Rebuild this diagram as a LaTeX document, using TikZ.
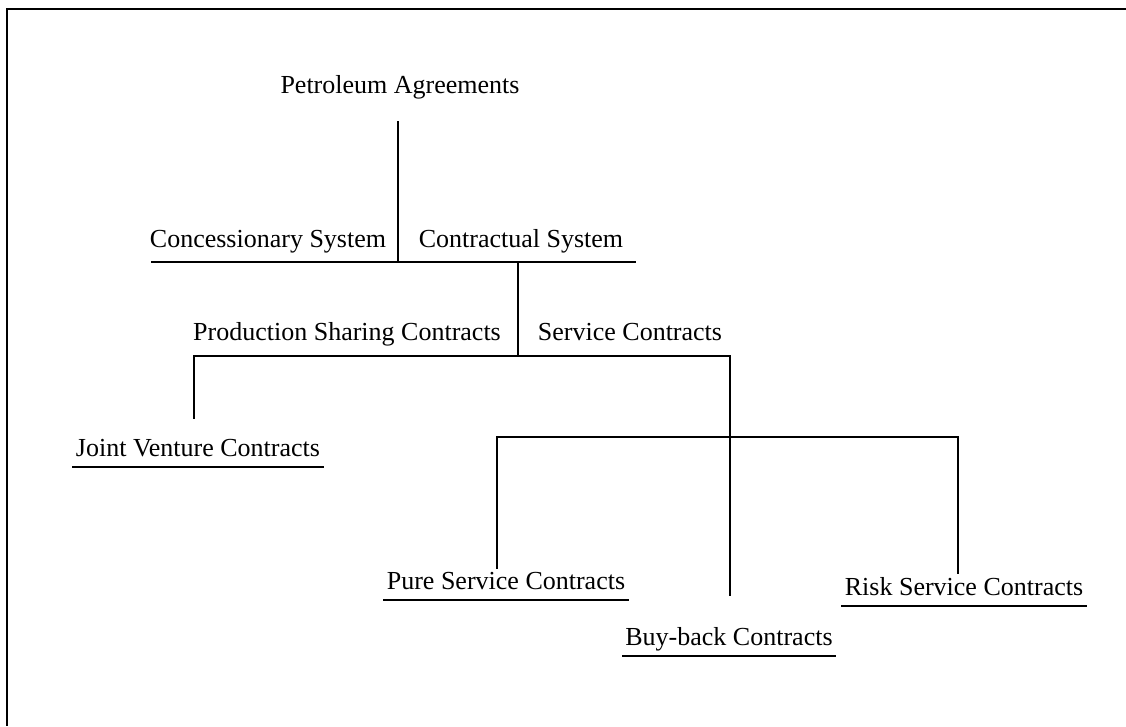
\documentclass[tikz,border=0pt]{standalone}
\usepackage{fontspec}
\setmainfont{Liberation Serif}
\begin{document}
\begin{tikzpicture}[x=1pt,y=-1pt,
  lbl/.style={anchor=base,inner xsep=2.5pt,inner ysep=0pt,font=\fontsize{26}{30}\selectfont},
  ln/.style={line width=1.7pt,line cap=rect},
  frame/.style={line width=2pt}]
\useasboundingbox (0,0) rectangle (1126,726);
% frame (only top and left edges visible)
\coordinate (f1) at (1126,8.5);
\coordinate (f2) at (7,8.5);
\coordinate (f3) at (7,726);
\draw[frame] (f1) -- (f2) -- (f3);
% labels
\node[lbl] (pa) at (400,93) {Petroleum Agreements};
\node[lbl] (cs) at (268,247) {Concessionary System};
\node[lbl] (ct) at (521,247) {Contractual System};
\node[lbl] (psc) at (347,340) {Production Sharing Contracts};
\node[lbl] (sc) at (630,340) {Service Contracts};
\node[lbl] (jv) at (198,456) {Joint Venture Contracts};
\node[lbl] (ps) at (506,589) {Pure Service Contracts};
\node[lbl] (bb) at (729,645) {Buy-back Contracts};
\node[lbl] (rs) at (964,595) {Risk Service Contracts};
% junction coordinates
\coordinate (a1) at (398,122);
\coordinate (a2) at (398,262);
\coordinate (b1) at (152,262);
\coordinate (b2) at (635,262);
\coordinate (c1) at (518,262);
\coordinate (c2) at (518,356);
\coordinate (d1) at (194,356);
\coordinate (d2) at (730,356);
\coordinate (jt) at (194,418);
\coordinate (bt) at (730,595);
\coordinate (e1) at (497,437);
\coordinate (e2) at (958,437);
\coordinate (pt) at (497,568);
\coordinate (rt) at (958,573);
% connectors
\draw[ln] (a1) -- (a2);
\draw[ln] (b1) -- (b2);
\draw[ln] (c1) -- (c2);
\draw[ln] (d1) -- (d2);
\draw[ln] (d1) -- (jt);
\draw[ln] (d2) -- (bt);
\draw[ln] (e1) -- (e2);
\draw[ln] (e1) -- (pt);
\draw[ln] (e2) -- (rt);
% underlines
\foreach \n in {jv,ps,bb,rs}{
  \draw[ln] ([yshift=-11pt]\n.base west) -- ([yshift=-11pt]\n.base east);
}
\end{tikzpicture}
\end{document}
